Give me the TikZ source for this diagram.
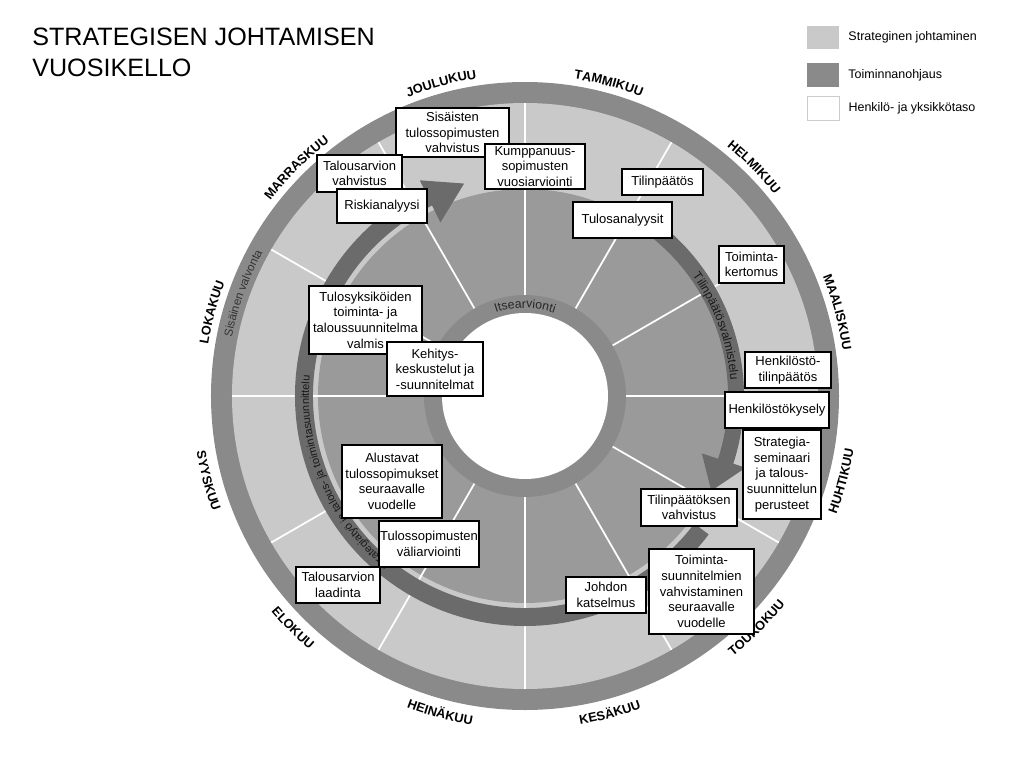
\documentclass[tikz,border=0pt]{standalone}
\usepackage{fontspec}
\setmainfont{Liberation Sans}
\usepackage{xcolor}
\usepackage{tikz}
\usetikzlibrary{decorations.text, positioning}

\definecolor{kehagray}{HTML}{8A8A8A}
\definecolor{strategia}{HTML}{C8C9C8}
\definecolor{toiminta}{HTML}{9A9A9A}
\definecolor{nuolenvari}{HTML}{6B6B6B}
\def\kuufont{\bfseries\fontsize{7.3}{8}\selectfont}

\tikzset{
    laatikko/.style={draw=black, line width=0.7pt, fill=white, align=center,
        inner sep=0pt, font=\fontsize{7.4}{8.9}\selectfont},
    koko/.style 2 args={minimum width=#1*0.02cm, minimum height=#2*0.02cm},
    nuoli/.style={fill=nuolenvari},
    selite/.style={inner sep=0pt, font=\fontsize{7.1}{8.6}\selectfont}
}

\begin{document}
\begin{tikzpicture}[x=0.02cm, y=0.02cm]
    \useasboundingbox (-525,-372) rectangle (499,396);

    % Otsikko
    \node[anchor=north west, inner sep=0pt, align=left,
        font=\fontsize{14.3}{17.6}\selectfont] (otsikko) at (-493,368)
        {STRATEGISEN JOHTAMISEN\\VUOSIKELLO};

    % Selitteet
    \node[fill=strategia, koko={32}{23}, inner sep=0pt] (selite1) at (298,358.5) {};
    \node[fill=kehagray, koko={32}{24}, inner sep=0pt] (selite2) at (298,321) {};
    \node[fill=white, draw=black!20, line width=0.5pt, koko={32}{24}, inner sep=0pt] (selite3) at (298,288) {};
    \node[selite, right=5pt of selite1] (selite1teksti) {Strateginen johtaminen};
    \node[selite, right=5pt of selite2] (selite2teksti) {Toiminnanohjaus};
    \node[selite, right=5pt of selite3] (selite3teksti) {Henkilö- ja yksikkötaso};

    % Kehät
    \fill[kehagray] (0,0) circle[radius=314];
    \fill[strategia] (0,0) circle[radius=293];
    \fill[toiminta] (0,0) circle[radius=207];
    \foreach \a in {0,30,...,330}
        \draw[white, line width=1pt] (\a:101) -- (\a:293);
    \fill[kehagray] (0,0) circle[radius=101];
    \fill[white] (0,0) circle[radius=83];

    % Nuolet
    \fill[nuoli] (-37:230) arc[start angle=-37, end angle=-244, radius=230]
        -- (-244:240) -- (-254:221) -- (-244:193) -- (-244:212)
        arc[start angle=-244, end angle=-37, radius=212] -- cycle;
    \fill[nuoli] (60:219) arc[start angle=60, end angle=-18, radius=219]
        -- (-18:232) -- (-27:209) -- (-18:186) -- (-18:203)
        arc[start angle=-18, end angle=60, radius=203] -- cycle;

    % Tekstit kaarilla
    \path[decorate, decoration={text along path, text align=center, text color=black!85,
        text={|\fontsize{7}{7}\selectfont|Itsearvionti}}]
        (120:88) arc[start angle=120, end angle=60, radius=88];
    \path[decorate, decoration={text along path, text align=center, text color=black!80,
        text={|\fontsize{6.6}{7}\selectfont|Sisäinen valvonta}}]
        (178:299) arc[start angle=178, end angle=142, radius=299];
    \path[decorate, decoration={text along path, text align=center, text color=black!90,
        text={|\fontsize{6.9}{7}\selectfont|Tilinpäätösvalmistelu}}]
        (42:206) arc[start angle=42, end angle=-2, radius=206];
    \path[decorate, decoration={text along path, text align=center, text color=black!90,
        text={|\fontsize{6.3}{7}\selectfont|Strategiatyö ja talous- ja toimintasuunnittelu}}]
        (245:216) arc[start angle=245, end angle=161, radius=216];

    % Kuukaudet
    \foreach \kk/\a in {TAMMIKUU/75, HELMIKUU/45, MAALISKUU/15,
                        LOKAKUU/165, MARRASKUU/135, JOULUKUU/105}
        \path[decorate, decoration={text along path, text align=center,
            text/.expanded={|\noexpand\kuufont|\kk}}]
            (\a+15:321) arc[start angle=\a+15, end angle=\a-15, radius=321];
    \foreach \kk/\a in {HUHTIKUU/-15, TOUKOKUU/-45, KESÄKUU/-75,
                        HEINÄKUU/-105, ELOKUU/-135, SYYSKUU/-165}
        \path[decorate, decoration={text along path, text align=center,
            text/.expanded={|\noexpand\kuufont|\kk}}]
            (\a-15:333) arc[start angle=\a-15, end angle=\a+15, radius=333];

    % Tapahtumat
    \node[laatikko, koko={113}{49}] (sisaiset) at (-72.5,263.5) {Sisäisten\\tulossopimusten\\vahvistus};
    \node[laatikko, koko={100}{45}] (kumppanuus) at (10,229.5) {Kumppanuus-\\sopimusten\\vuosiarviointi};
    \node[laatikko, koko={85}{37}] (tavahvistus) at (-165.5,222.5) {Talousarvion\\vahvistus};
    \node[laatikko, koko={90}{34}] (riski) at (-143,190) {Riskianalyysi};
    \node[laatikko, koko={81}{26}] (tilinpaatos) at (137.5,214) {Tilinpäätös};
    \node[laatikko, koko={99}{36}] (tulosanalyysit) at (97.5,176) {Tulosanalyysit};
    \node[laatikko, koko={65}{37}] (kertomus) at (226.5,131.5) {Toiminta-\\kertomus};
    \node[laatikko, koko={86}{36}] (htilinpaatos) at (263,26) {Henkilöstö-\\tilinpäätös};
    \node[laatikko, koko={104}{36}] (hkysely) at (252,-14) {Henkilöstökysely};
    \node[laatikko, koko={78}{89}] (seminaari) at (257,-78.5) {Strategia-\\seminaari\\ja talous-\\suunnittelun\\perusteet};
    \node[laatikko, koko={96}{37}] (tpvahvistus) at (164,-111.5) {Tilinpäätöksen\\vahvistus};
    \node[laatikko, koko={105}{85}] (tsvahvistus) at (176.5,-195.5) {Toiminta-\\suunnitelmien\\vahvistaminen\\seuraavalle\\vuodelle};
    \node[laatikko, koko={80}{36}] (katselmus) at (81,-199) {Johdon\\katselmus};
    \node[laatikko, koko={84}{36}] (laadinta) at (-187,-189) {Talousarvion\\laadinta};
    \node[laatikko, koko={100}{46}] (valiarviointi) at (-96,-148) {Tulossopimusten\\väliarviointi};
    \node[laatikko, koko={100}{73}] (alustavat) at (-133,-85.5) {Alustavat\\tulossopimukset\\seuraavalle\\vuodelle};
    \node[laatikko, koko={113}{68}] (tulosyksikot) at (-159.5,76) {Tulosyksiköiden\\toiminta- ja\\taloussuunnitelma\\valmis};
    \node[laatikko, koko={96}{54}] (kehitys) at (-90,27) {Kehitys-\\keskustelut ja\\-suunnitelmat};
\end{tikzpicture}
\end{document}
